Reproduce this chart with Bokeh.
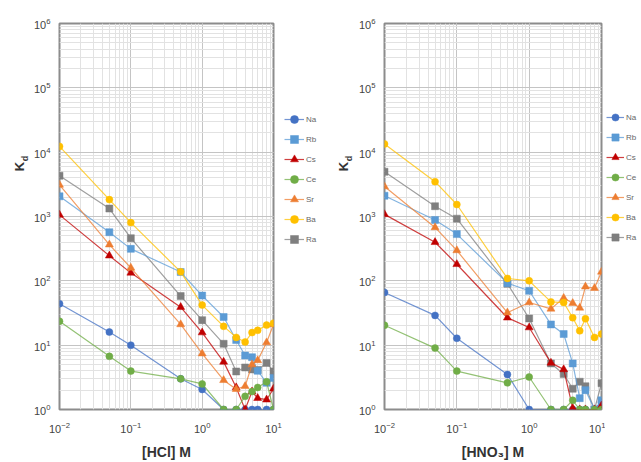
import math
from bokeh.plotting import figure
from bokeh.layouts import row
from bokeh.models import Legend, LegendItem, Label
from bokeh.embed import file_html
from bokeh.resources import INLINE

# concentration of acid (M)
conc = [0.01, 0.05, 0.1, 0.5, 1, 2, 3, 4, 5, 6, 8, 10]

elements = ["Na", "Rb", "Cs", "Ce", "Sr", "Ba", "Ra"]
colors = ["#4472C4", "#5B9BD5", "#C00000", "#70AD47", "#ED7D31", "#FFC000", "#7F7F7F"]
markers = ["circle", "square", "triangle", "circle", "triangle", "circle", "square"]

# Kd in HCl
hcl_na = [44, 16, 10, 3.0, 2.05, 1, 1, 1, 1, 1, 1, 1]
hcl_rb = [2060, 570, 314, 137, 59, 27.4, 12, 6.9, 6.5, 4.0, 2.6, 3.1]
hcl_cs = [1060, 246, 133, 39, 15.7, 5.5, 2.2, 1.0, 1.9, 1.5, 1.42, 2.1]
hcl_ce = [23.5, 6.7, 3.95, 3.0, 2.5, 1, 1, 1.6, 1.9, 2.2, 2.7, 1]
hcl_sr = [3100, 365, 159, 21, 7.4, 2.85, 2.07, 2.3, 5.0, 5.8, 11, 21]
hcl_ba = [12300, 1830, 804, 138, 42, 19.6, 13.2, 11.2, 15.7, 17, 20.5, 22]
hcl_ra = [4300, 1330, 460, 58, 24.5, 10.5, 3.9, 4.5, 4.2, 4.1, 5.3, 3.9]

# Kd in HNO3
hno3_na = [66, 29, 12.8, 3.5, 1, 1, 1, 1, 1, 1, 1, 1.3]
hno3_rb = [2100, 883, 533, 92, 70, 21, 14.9, 5.2, 1.5, 2.0, 1.0, 1.39]
hno3_cs = [1080, 398, 181, 26.7, 18.8, 5.3, 4.2, 1.05, 1, 1, 1, 1.15]
hno3_ce = [20.4, 9, 3.95, 2.6, 3.2, 1, 1, 1.39, 1, 1, 1, 1]
hno3_sr = [2920, 676, 297, 32, 46, 36.7, 54, 45, 38, 81, 77, 138]
hno3_ba = [13400, 3480, 1535, 109, 100, 47, 46, 26.7, 16.7, 25.8, 13.2, 14.9]
hno3_ra = [4960, 1445, 925, 90, 26, 5.2, 3.55, 2.1, 2.7, 2.3, 1.0, 2.56]

FONT = "Liberation Sans"
H = 462


def blank(width):
    f = figure(width=width, height=H, x_range=(0, 1), y_range=(0, 1),
               output_backend="svg", toolbar_location=None,
               x_axis_location=None, y_axis_location=None,
               min_border_left=0, min_border_right=0, min_border_top=0, min_border_bottom=0)
    f.grid.visible = False
    f.outline_line_color = None
    f.background_fill_color = "white"
    f.border_fill_color = "white"
    return f


def kd_label(width, kx):
    f = blank(width)
    f.add_layout(Label(x=kx, y=H - 219, x_units="screen", y_units="screen", text="K",
                       angle=math.pi / 2, text_align="center", text_baseline="middle",
                       text_font=FONT, text_font_style="bold", text_font_size="13px",
                       text_color="#333333"))
    f.add_layout(Label(x=kx + 5, y=H - 211, x_units="screen", y_units="screen", text="d",
                       angle=math.pi / 2, text_align="center", text_baseline="middle",
                       text_font=FONT, text_font_style="bold", text_font_size="9px",
                       text_color="#333333"))
    return f


def legend_fig(width, top, glyph_w):
    f = blank(width)
    items = []
    for name, col, mk in zip(elements, colors, markers):
        rl = f.line([-5, -4], [-5, -4], line_color=col, line_width=1.2, line_alpha=0.75)
        size = 8 if mk == "triangle" else 7
        rs = f.scatter([-5], [-5], marker=mk, size=size, fill_color=col,
                       line_color=col, line_width=0.5)
        items.append(LegendItem(label=name, renderers=[rl, rs]))
    legend = Legend(items=items, location=(1, H - top - 140), spacing=0, padding=0,
                    margin=0, glyph_height=20, glyph_width=glyph_w, label_height=20,
                    label_standoff=2, label_text_font=FONT,
                    label_text_font_size="8px", label_text_color="#666666",
                    background_fill_alpha=0, border_line_alpha=0)
    f.add_layout(legend)
    return f


def make_panel(xlabel, series, width, border_left, border_right):
    p = figure(width=width, height=H, x_axis_type="log", y_axis_type="log",
               x_range=(0.01, 10), y_range=(1, 1e6),
               output_backend="svg", toolbar_location=None,
               min_border_left=border_left, min_border_right=border_right,
               min_border_top=23, min_border_bottom=47)
    p.background_fill_color = "white"
    p.border_fill_color = "white"
    p.outline_line_color = "#8c8c8c"
    p.outline_line_width = 2

    for ax in (p.xaxis, p.yaxis):
        ax.axis_line_color = None
        ax.major_tick_line_color = None
        ax.minor_tick_line_color = None
        ax.major_label_text_font = FONT
        ax.major_label_text_font_size = "11px"
        ax.major_label_text_color = "#444444"
    p.xaxis.major_label_standoff = 6
    p.yaxis.major_label_standoff = 3

    p.xaxis.axis_label = xlabel
    p.xaxis.axis_label_text_font = FONT
    p.xaxis.axis_label_text_font_style = "bold"
    p.xaxis.axis_label_text_font_size = "14px"
    p.xaxis.axis_label_text_color = "#333333"
    p.xaxis.axis_label_standoff = 8

    for g in (p.xgrid, p.ygrid):
        g.grid_line_color = "#c4c4c4"
        g.grid_line_width = 1
        g.minor_grid_line_color = "#e2e2e2"
        g.minor_grid_line_width = 1

    # draw Ra underneath the other series
    order = [6, 0, 1, 2, 3, 4, 5]
    for i in order:
        col, mk, vals = colors[i], markers[i], series[i]
        p.line(conc, vals, line_color=col, line_width=1.2, line_alpha=0.75)
        size = 8 if mk == "triangle" else 7
        p.scatter(conc, vals, marker=mk, size=size, fill_color=col,
                  line_color=col, line_width=0.5)
    return p


kd1 = kd_label(30, 19)
p1 = make_panel("[HCl] M", [hcl_na, hcl_rb, hcl_cs, hcl_ce, hcl_sr, hcl_ba, hcl_ra],
                253, 25, 10)
leg1 = legend_fig(52, 162, 20)
kd2 = kd_label(20, 8)
p2 = make_panel("[HNO\u2083] M", [hno3_na, hno3_rb, hno3_cs, hno3_ce, hno3_sr, hno3_ba, hno3_ra],
                250, 27, 4)
leg2 = legend_fig(36, 160, 18)

layout = row(kd1, p1, leg1, kd2, p2, leg2, spacing=0)
open("out.html", "w").write(file_html(layout, INLINE))
